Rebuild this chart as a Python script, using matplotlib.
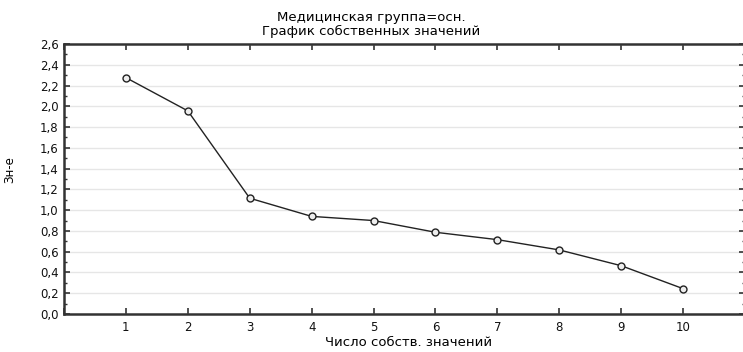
import matplotlib
matplotlib.use("Agg")
import matplotlib.pyplot as plt
from matplotlib.ticker import MultipleLocator, FuncFormatter

plt.rcParams['font.family'] = ['DejaVu Sans']

components = [1, 2, 3, 4, 5, 6, 7, 8, 9, 10]
eigenvalues = [2.276, 1.956, 1.115, 0.94, 0.90, 0.787, 0.716, 0.617, 0.465, 0.244]
title_lines = ["Медицинская группа=осн.", "График собственных значений"]
xlabel = "Число собств. значений"
ylabel = "Зн-е"

fig = plt.figure(figsize=(7.43, 3.52), dpi=100)
ax = fig.add_axes([64/743, 38/352, (745-64)/743, (314-44)/352])

ax.plot(components, eigenvalues, color='#222222', lw=1.0, marker='o', ms=5,
        mfc='#eeeeee', mec='#222222', mew=1.0, zorder=3)

ax.set_xlim(0, 11)
ax.set_ylim(0, 2.6)
ax.xaxis.set_major_locator(MultipleLocator(1))
ax.xaxis.set_major_formatter(FuncFormatter(lambda v, p: f"{int(v)}" if 1 <= v <= 10 else ""))
ax.yaxis.set_major_locator(MultipleLocator(0.2))
ax.yaxis.set_minor_locator(MultipleLocator(0.1))
ax.yaxis.set_major_formatter(FuncFormatter(lambda v, p: f"{v:.1f}".replace('.', ',')))

ax.grid(axis='y', which='major', color='#e6e6e6', lw=1.0)
ax.set_axisbelow(True)
for s in ax.spines.values():
    s.set_color('#333333')
    s.set_linewidth(1.8)

ax.tick_params(which='both', direction='in', top=True, right=True, colors='#333333',
               labelcolor='#111111', labelsize=8.5)
ax.tick_params(which='major', length=4, width=1.2)
ax.tick_params(which='minor', length=2.5, width=1.0)
ax.tick_params(axis='x', pad=5)
ax.tick_params(axis='y', pad=4)

fig.text(409/743, 1 - 343/352, xlabel, ha='center', va='center', fontsize=9.5)
fig.text(10/743, 1 - 170/352, ylabel, ha='center', va='center', rotation=90,
         fontsize=8.5)

fig.text(0.5, 1 - 17/352, title_lines[0], ha='center', va='center', fontsize=9.5)
fig.text(0.5, 1 - 31/352, title_lines[1], ha='center', va='center', fontsize=9.5)

fig.savefig("out.png", dpi=100)
